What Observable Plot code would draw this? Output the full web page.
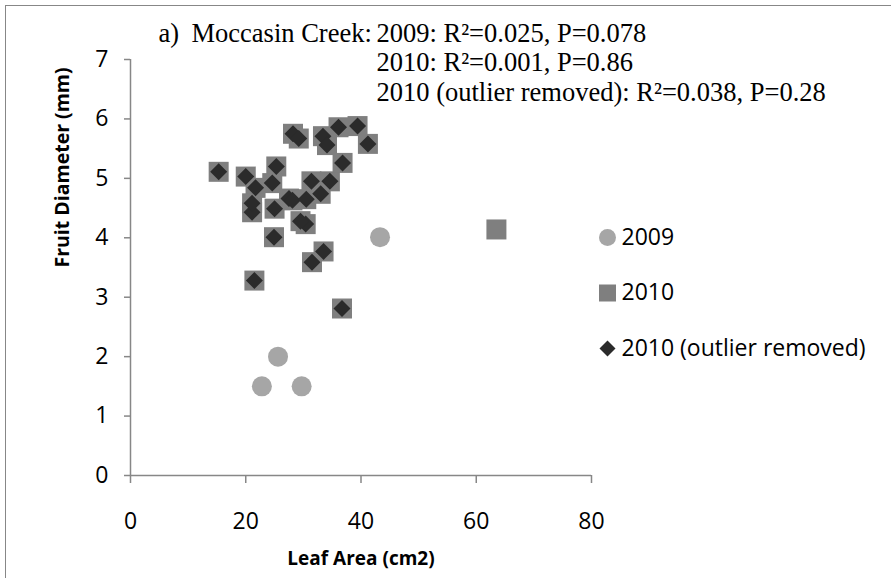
<!DOCTYPE html>
<html>
<head>
<meta charset="utf-8">
<script src="https://cdn.jsdelivr.net/npm/d3@7"></script>
<script src="https://cdn.jsdelivr.net/npm/@observablehq/plot@0.6"></script>
<style>
  html, body { margin: 0; padding: 0; background: #fff; }
  #wrap { position: relative; width: 891px; height: 578px; overflow: hidden; background: #fff; }
  #frame { position: absolute; left: 5px; top: 5px; width: 2000px; height: 2000px;
           border-top: 1.5px solid #878787; border-left: 1.5px solid #878787; pointer-events: none; }
</style>
</head>
<body>
<div id="wrap"><div id="frame"></div></div>
<script>
// ---- data ----
const seriesNames = ["2009", "2010", "2010 (outlier removed)"];

const leafArea2009   = [43.3, 25.6, 22.8, 29.7];
const fruitDiam2009  = [4.01, 2.00, 1.50, 1.50];

const leafAreaRemoved  = [15.3, 20.0, 21.7, 25.3, 24.6, 21.1, 21.1, 25.0, 24.9, 27.5,
                          28.1, 30.5, 30.4, 29.5, 31.4, 33.0, 34.6, 28.2, 29.2, 33.4,
                          34.1, 36.1, 39.4, 41.2, 36.8, 31.5, 33.5, 21.5, 36.7];
const fruitDiamRemoved = [5.11, 5.03, 4.84, 5.20, 4.92, 4.43, 4.58, 4.49, 4.01, 4.66,
                          4.63, 4.65, 4.23, 4.28, 4.95, 4.74, 4.95, 5.75, 5.67, 5.71,
                          5.56, 5.86, 5.88, 5.58, 5.26, 3.59, 3.77, 3.28, 2.81];

const leafAreaOutlier  = [63.5];
const fruitDiamOutlier = [4.14];

const xTicks = [0, 20, 40, 60, 80];
const yTicks = [0, 1, 2, 3, 4, 5, 6, 7];

const titleLines = [
  "2009: R\u00B2=0.025, P=0.078",
  "2010: R\u00B2=0.001, P=0.86",
  "2010 (outlier removed): R\u00B2=0.038, P=0.28"
];

// ---- tables built from the arrays ----
const d2009 = leafArea2009.map((x, i) => ({x, y: fruitDiam2009[i]}));
const dRemoved = leafAreaRemoved.map((x, i) => ({x, y: fruitDiamRemoved[i]}));
const d2010 = dRemoved.concat(leafAreaOutlier.map((x, i) => ({x, y: fruitDiamOutlier[i]})));

// ---- styles ----
const sans = "'Open Sans', sans-serif";
const serif = "'Liberation Serif', 'Times New Roman', serif";
const axisGray = "#878787";
const colors = {"2009": "#a6a6a6", "2010": "#7f7f7f", "2010 (outlier removed)": "#2b2b2b"};

const squareSym = {draw(ctx, size) { const r = Math.sqrt(size / Math.PI);
  ctx.moveTo(-r, -r); ctx.lineTo(r, -r); ctx.lineTo(r, r); ctx.lineTo(-r, r); ctx.closePath(); }};
const diamondSym = {draw(ctx, size) { const r = Math.sqrt(size / Math.PI);
  ctx.moveTo(0, -r); ctx.lineTo(r, 0); ctx.lineTo(0, r); ctx.lineTo(-r, 0); ctx.closePath(); }};
const symbols = {"2009": "circle", "2010": squareSym, "2010 (outlier removed)": diamondSym};

// legend marks
const legendMarks = [];
seriesNames.forEach((name, i) => {
  legendMarks.push(Plot.dot([name], {frameAnchor: "top-left", dx: 477, dy: 178 + i * 55.5,
    r: i === 2 ? 8 : 8.5, symbol: symbols[name], fill: colors[name], stroke: null}));
  legendMarks.push(Plot.text([name], {frameAnchor: "top-left", dx: 491, dy: 178 + i * 55.5,
    text: d => d, textAnchor: "start", lineAnchor: "middle", fontFamily: sans, fontSize: 23, fill: "#000"}));
});

const chart = Plot.plot({
  width: 891,
  height: 578,
  marginLeft: 130,
  marginRight: 300,
  marginTop: 59,
  marginBottom: 103,
  style: {fontFamily: sans, fontSize: "22px", color: "#000", background: "transparent", overflow: "visible"},
  x: {domain: [0, 80], axis: null},
  y: {domain: [0, 7], axis: null},
  marks: [
    Plot.ruleY([0], {stroke: axisGray, strokeWidth: 1.5}),
    Plot.ruleX([0], {stroke: axisGray, strokeWidth: 1.5}),
    Plot.axisX(xTicks, {tickSize: 8, tickPadding: 29, stroke: axisGray, strokeWidth: 1.5,
      fill: "#000", fontSize: 23, fontFamily: sans, label: null, tickFormat: d => String(d)}),
    Plot.axisY(yTicks, {tickSize: 6, tickPadding: 16, stroke: axisGray, strokeWidth: 1.5,
      fill: "#000", fontSize: 23, fontFamily: sans, label: null, tickFormat: d => String(d)}),
    Plot.text(["Leaf Area (cm2)"], {frameAnchor: "bottom", dy: 83, text: d => d, lineAnchor: "middle",
      fontFamily: sans, fontWeight: "bold", fontSize: 19, fill: "#000"}),
    Plot.text(["Fruit Diameter (mm)"], {frameAnchor: "left", dx: -68, rotate: -90, text: d => d,
      lineAnchor: "middle", fontFamily: sans, fontWeight: "bold", fontSize: 19.5, fill: "#000"}),
    // data
    Plot.dot(d2009, {x: "x", y: "y", r: 10, symbol: "circle", fill: colors["2009"], stroke: null}),
    Plot.dot(d2010, {x: "x", y: "y", r: 10, symbol: squareSym, fill: colors["2010"], stroke: null}),
    Plot.dot(dRemoved, {x: "x", y: "y", r: 8.5, symbol: diamondSym, fill: colors["2010 (outlier removed)"], stroke: null}),
    // title annotation
    Plot.text(["a)"], {frameAnchor: "top-left", dx: 28, dy: -26, text: d => d, textAnchor: "start",
      lineAnchor: "middle", fontFamily: serif, fontSize: 26.5, fill: "#000"}),
    Plot.text(["Moccasin Creek:"], {frameAnchor: "top-left", dx: 61, dy: -26, text: d => d, textAnchor: "start",
      lineAnchor: "middle", fontFamily: serif, fontSize: 26.5, fill: "#000"}),
    ...titleLines.map((t, i) => Plot.text([t], {frameAnchor: "top-left", dx: 246, dy: -26 + i * 29.5,
      text: d => d, textAnchor: "start", lineAnchor: "middle", fontFamily: serif, fontSize: 26.5, fill: "#000"})),
    ...legendMarks
  ]
});
document.getElementById("wrap").insertBefore(chart, document.getElementById("frame"));
chart.style.position = "absolute";
chart.style.left = "0px";
chart.style.top = "0px";
</script>
</body>
</html>
